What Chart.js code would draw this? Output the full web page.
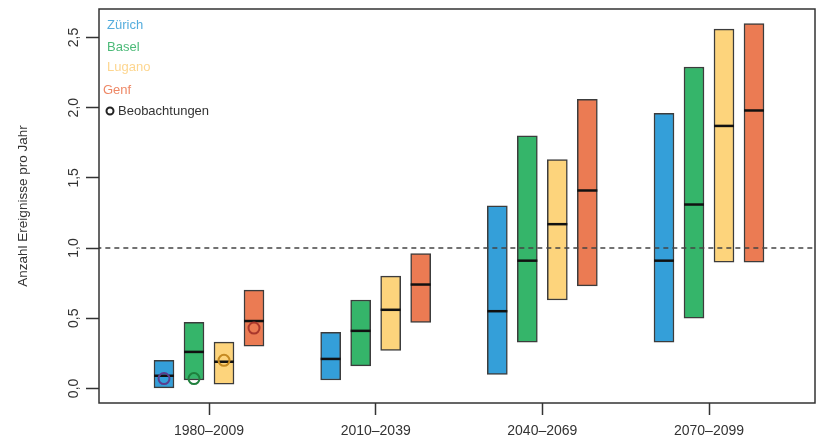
<!DOCTYPE html>
<html>
<head>
<meta charset="utf-8">
<script src="https://cdn.jsdelivr.net/npm/chart.js@4/dist/chart.umd.min.js"></script>
<style>
  html, body { margin: 0; padding: 0; background: #ffffff; }
  #wrap { width: 819px; height: 439px; }
</style>
</head>
<body>
<div id="wrap"><canvas id="chart" width="819" height="439"></canvas></div>
<script>
// Zeiträume und Städte
const periods = ['1980–2009', '2010–2039', '2040–2069', '2070–2099'];
const cities = ['Zürich', 'Basel', 'Lugano', 'Genf'];

// Bandbreite (unten/oben) und Median der Modellkette je Stadt
const zurichLow    = [0.00, 0.06, 0.10, 0.33];
const zurichHigh   = [0.20, 0.40, 1.30, 1.96];
const zurichMedian = [0.09, 0.21, 0.55, 0.91];

const baselLow    = [0.06, 0.16, 0.33, 0.50];
const baselHigh   = [0.47, 0.63, 1.80, 2.29];
const baselMedian = [0.26, 0.41, 0.91, 1.31];

const luganoLow    = [0.03, 0.27, 0.63, 0.90];
const luganoHigh   = [0.33, 0.80, 1.63, 2.56];
const luganoMedian = [0.19, 0.56, 1.17, 1.87];

const genfLow    = [0.30, 0.47, 0.73, 0.90];
const genfHigh   = [0.70, 0.96, 2.06, 2.60];
const genfMedian = [0.48, 0.74, 1.41, 1.98];

// Beobachtungen 1980–2009 (Zürich, Basel, Lugano, Genf)
const observed = [0.07, 0.07, 0.20, 0.43];

// Achsenbeschriftung und Referenzlinie
const yTicks = [0, 0.5, 1.0, 1.5, 2.0, 2.5];
const referenceLevel = 1.0;

const fillColors   = ['#349fd9', '#35b56a', '#fdd47c', '#eb7b53'];
const textColors   = ['#55addd', '#4cba78', '#fdd690', '#ee8866'];
const obsColors    = ['#5a3d8e', '#1f7f3d', '#c58a22', '#a8372c'];
const offsets      = [-0.27, -0.09, 0.09, 0.27];

const lows    = [zurichLow, baselLow, luganoLow, genfLow];
const highs   = [zurichHigh, baselHigh, luganoHigh, genfHigh];
const medians = [zurichMedian, baselMedian, luganoMedian, genfMedian];

const FONT = '"Liberation Sans", Arial, sans-serif';
const datasets = [];

// Beobachtungen (oberste Ebene)
cities.forEach((c, k) => {
  datasets.push({
    type: 'line',
    label: c + ' Beobachtung',
    data: [{ x: 1 + offsets[k], y: observed[k] }],
    showLine: false,
    pointStyle: 'circle',
    pointRadius: 5.5,
    pointBorderWidth: 2,
    pointBorderColor: obsColors[k],
    pointBackgroundColor: 'rgba(0,0,0,0)',
    borderColor: obsColors[k]
  });
});

// Medianstriche
cities.forEach((c, k) => {
  datasets.push({
    type: 'line',
    label: c + ' Median',
    data: periods.map((p, i) => ({ x: i + 1 + offsets[k], y: medians[k][i] })),
    showLine: false,
    pointStyle: 'line',
    pointRadius: 10,
    pointBorderWidth: 2.5,
    pointBorderColor: '#111111',
    borderColor: '#111111'
  });
});

// Referenzlinie bei 1,0
datasets.push({
  type: 'line',
  label: 'Referenz',
  data: [{ x: 0, y: referenceLevel }, { x: 5, y: referenceLevel }],
  borderColor: '#444444',
  borderWidth: 1.5,
  borderDash: [5, 4],
  pointRadius: 0
});

// Balken der Bandbreite
cities.forEach((c, k) => {
  datasets.push({
    type: 'bar',
    label: c,
    data: periods.map((p, i) => ({ x: i + 1 + offsets[k], y: [lows[k][i], highs[k][i]] })),
    backgroundColor: fillColors[k],
    borderColor: '#3c3c3c',
    borderWidth: 1.5,
    borderSkipped: false,
    barThickness: 20,
    grouped: false
  });
});

// Rahmen und Legende
const framePlugin = {
  id: 'frameAndLegend',
  afterDraw(chart) {
    const { ctx, chartArea: a } = chart;
    ctx.save();
    ctx.strokeStyle = '#333333';
    ctx.lineWidth = 1.5;
    ctx.strokeRect(a.left, a.top, a.right - a.left, a.bottom - a.top);

    ctx.font = '13px ' + FONT;
    ctx.textBaseline = 'middle';
    ctx.textAlign = 'left';
    const rows = [[107, 25], [107, 47], [107, 67], [103, 90]];
    cities.forEach((c, k) => {
      ctx.fillStyle = textColors[k];
      ctx.fillText(c, rows[k][0], rows[k][1]);
    });
    ctx.strokeStyle = '#222222';
    ctx.lineWidth = 2;
    ctx.beginPath();
    ctx.arc(110, 111, 3.5, 0, Math.PI * 2);
    ctx.stroke();
    ctx.fillStyle = '#333333';
    ctx.fillText('Beobachtungen', 118, 111);
    ctx.restore();
  }
};

const zeroPadding = (s) => { s.paddingLeft = 0; s.paddingRight = 0; s.paddingTop = 0; s.paddingBottom = 0; };

new Chart(document.getElementById('chart'), {
  type: 'bar',
  data: { datasets },
  plugins: [framePlugin],
  options: {
    responsive: false,
    animation: false,
    layout: { autoPadding: false, padding: { top: 9, right: 4, bottom: 0, left: 0 } },
    plugins: {
      legend: { display: false },
      tooltip: { enabled: false }
    },
    scales: {
      x: {
        type: 'linear',
        min: 0.34,
        max: 4.636,
        offset: false,
        afterBuildTicks: (s) => { s.ticks = periods.map((p, i) => ({ value: i + 1 })); },
        afterFit: (s) => { s.height = 36; zeroPadding(s); },
        border: { display: false },
        grid: {
          offset: false,
          drawOnChartArea: false,
          drawTicks: true,
          tickLength: 12,
          tickColor: '#333333',
          tickWidth: 1.5
        },
        ticks: {
          padding: 8,
          color: '#333333',
          font: { family: FONT, size: 14 },
          maxRotation: 0,
          autoSkip: false,
          callback: (v) => periods[Math.round(v) - 1] || ''
        }
      },
      y: {
        type: 'linear',
        min: -0.104,
        max: 2.703,
        afterBuildTicks: (s) => { s.ticks = yTicks.map(v => ({ value: v })); },
        afterFit: (s) => { s.width = 99; zeroPadding(s); },
        border: { display: false },
        grid: {
          drawOnChartArea: false,
          drawTicks: true,
          tickLength: 13,
          tickColor: '#333333',
          tickWidth: 1.5
        },
        ticks: {
          minRotation: 90,
          maxRotation: 90,
          crossAlign: 'center',
          padding: 2,
          color: '#333333',
          font: { family: FONT, size: 14 },
          callback: (v) => v.toFixed(1).replace('.', ',')
        },
        title: {
          display: true,
          text: 'Anzahl Ereignisse pro Jahr',
          color: '#333333',
          font: { family: FONT, size: 13.5 },
          padding: { top: 15, bottom: 0 }
        }
      }
    }
  }
});
</script>
</body>
</html>
